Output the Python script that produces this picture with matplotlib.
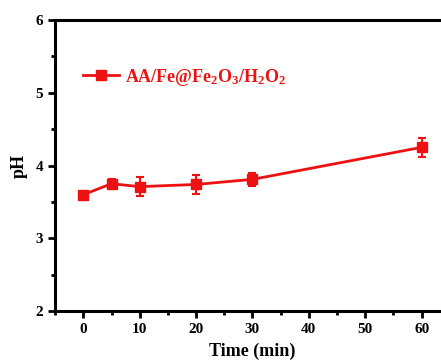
import matplotlib.pyplot as plt
from matplotlib.lines import Line2D
from matplotlib.ticker import MultipleLocator

plt.rcParams['font.family'] = ['Liberation Serif', 'DejaVu Serif']
plt.rcParams['font.weight'] = 'bold'
plt.rcParams['mathtext.fontset'] = 'custom'
plt.rcParams['mathtext.rm'] = 'Liberation Serif:bold'
plt.rcParams['mathtext.bf'] = 'Liberation Serif:bold'

time_min = [0, 5, 10, 20, 30, 60]
ph = [3.60, 3.75, 3.71, 3.74, 3.81, 4.25]
ph_err = [0.04, 0.07, 0.13, 0.13, 0.09, 0.13]
label = r'$\mathrm{AA/Fe@Fe_2O_3/H_2O_2}$'

red = '#ee1111'

fig = plt.figure(figsize=(4.41, 3.63), dpi=100)
ax = fig.add_axes([0.125, 0.143, 0.895, 0.802])

ax.errorbar(time_min, ph, yerr=ph_err, color=red, lw=2, marker='s',
            markersize=7.5, capsize=3, elinewidth=1.5, capthick=1.5)

ax.set_xlim(-5, 65)
ax.set_ylim(2, 6)
ax.xaxis.set_major_locator(MultipleLocator(10))
ax.xaxis.set_minor_locator(MultipleLocator(5))
ax.yaxis.set_major_locator(MultipleLocator(1))
ax.yaxis.set_minor_locator(MultipleLocator(0.5))
ax.tick_params(which='both', direction='out', width=2, labelsize=11)
ax.tick_params(which='major', length=5)
ax.tick_params(which='minor', length=3)
for s in ax.spines.values():
    s.set_linewidth(2.2)

ax.set_xlabel('Time (min)', fontsize=13, fontweight='bold', labelpad=5)
ax.set_ylabel('pH', fontsize=13, fontweight='bold', labelpad=6)

handle = Line2D([], [], color=red, lw=2, marker='s', markersize=7.5)
leg = ax.legend([handle], [label], loc='upper left',
                bbox_to_anchor=(0.03, 0.895), frameon=False,
                fontsize=13, handlelength=2.0, handletextpad=0.3)
for t in leg.get_texts():
    t.set_color(red)

fig.savefig('out.png', dpi=100)
